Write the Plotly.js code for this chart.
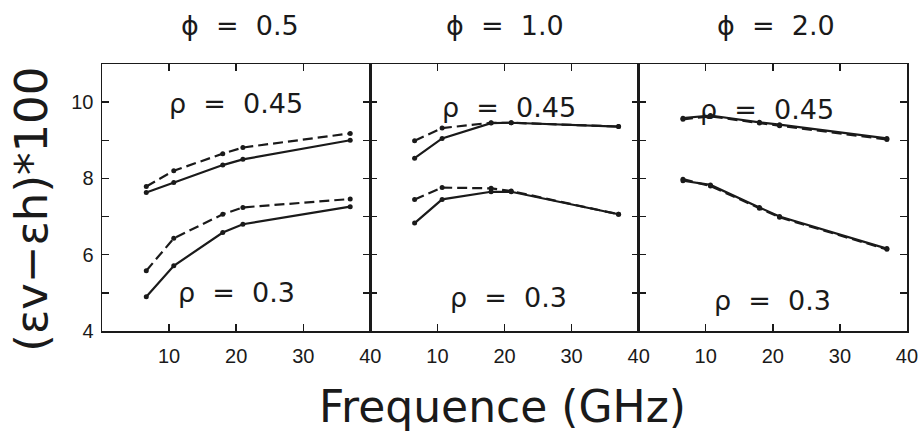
<!DOCTYPE html>
<html>
<head>
<meta charset="utf-8">
<script src="https://cdn.plot.ly/plotly-3.0.1.min.js"></script>
<style>html,body{margin:0;padding:0;background:#fff;}#chart{width:920px;height:441px;}</style>
</head>
<body>
<div id="chart"></div>
<script>
// Frequencies (GHz)
const freq = [6.6, 10.7, 18, 21, 37];

// Panel titles and curve labels
const phiTitles = ["ϕ\u00A0\u00A0=\u00A0\u00A00.5", "ϕ\u00A0\u00A0=\u00A0\u00A01.0", "ϕ\u00A0\u00A0=\u00A0\u00A02.0"];
const rhoHigh = "ρ\u00A0\u00A0=\u00A0\u00A00.45";
const rhoLow = "ρ\u00A0\u00A0=\u00A0\u00A00.3";

// phi = 0.5
const p1_r045_solid = [7.63, 7.89, 8.35, 8.50, 9.00];
const p1_r045_dash  = [7.79, 8.20, 8.65, 8.81, 9.18];
const p1_r03_solid  = [4.90, 5.71, 6.58, 6.80, 7.26];
const p1_r03_dash   = [5.58, 6.43, 7.06, 7.24, 7.46];

// phi = 1.0
const p2_r045_solid = [8.53, 9.05, 9.45, 9.46, 9.36];
const p2_r045_dash  = [8.99, 9.32, 9.46, 9.46, 9.36];
const p2_r03_solid  = [6.83, 7.45, 7.65, 7.65, 7.06];
const p2_r03_dash   = [7.45, 7.76, 7.74, 7.67, 7.06];

// phi = 2.0
const p3_r045_solid = [9.58, 9.65, 9.47, 9.41, 9.05];
const p3_r045_dash  = [9.55, 9.63, 9.45, 9.38, 9.02];
const p3_r03_solid  = [7.94, 7.83, 7.24, 7.00, 6.16];
const p3_r03_dash   = [7.98, 7.80, 7.22, 6.98, 6.14];

// Tick labels
const xTickVals = [10, 20, 30, 40];
const xTickText = ["10", "20", "30", "40"];
const yTickVals = [4, 5, 6, 7, 8, 9, 10, 11];
const yTickText = ["4", "", "6", "", "8", "", "10", ""];

const panels = [
  {xa: "x",  ya: "y",  s45: p1_r045_solid, d45: p1_r045_dash, s3: p1_r03_solid, d3: p1_r03_dash},
  {xa: "x2", ya: "y2", s45: p2_r045_solid, d45: p2_r045_dash, s3: p2_r03_solid, d3: p2_r03_dash},
  {xa: "x3", ya: "y3", s45: p3_r045_solid, d45: p3_r045_dash, s3: p3_r03_solid, d3: p3_r03_dash}
];

const FONT = "DejaVu Sans, Liberation Sans, sans-serif";
const TICKFONT = "Liberation Sans, Arial, sans-serif";
const ink = "#1a1a1a";

const traces = [];
panels.forEach(p => {
  const solid = {color: ink, width: 2.2};
  const dash = {color: ink, width: 2.2, dash: "10px,5px"};
  const mk = {color: ink, size: 5};
  [[p.d45, dash], [p.s45, solid], [p.d3, dash], [p.s3, solid]].forEach(([ys, ln]) => {
    traces.push({x: freq, y: ys, xaxis: p.xa, yaxis: p.ya, type: "scatter",
      mode: "lines+markers", line: ln, marker: mk, showlegend: false, hoverinfo: "skip"});
  });
});

function xAxis(domain, anchor) {
  return {domain: domain, anchor: anchor, range: [0, 40], tickmode: "array",
    tickvals: xTickVals, ticktext: xTickText, ticks: "inside", ticklen: 7, tickwidth: 1.5,
    tickcolor: ink, showline: true, linecolor: ink, linewidth: 1.5, mirror: "ticks",
    showgrid: false, zeroline: false, ticklabelstandoff: 6,
    tickfont: {family: TICKFONT, size: 20, color: ink}};
}
function yAxis(anchor, labels) {
  return {anchor: anchor, domain: [0, 1], range: [4, 11], tickmode: "array",
    tickvals: yTickVals, ticktext: yTickText, ticks: "inside", ticklen: 7, tickwidth: 1.5,
    tickcolor: ink, showline: true, linecolor: ink, linewidth: 1.5, mirror: "ticks",
    showgrid: false, zeroline: false, showticklabels: labels, ticklabelstandoff: 3,
    tickfont: {family: TICKFONT, size: 20, color: ink}};
}

const annotations = [];
const phiX = [20.6, 20.1, 20.4];
const rhoHighPos = [[20, 9.97], [20.6, 9.85], [19.1, 9.8]];
const rhoLowPos = [[20, 5.0], [20.6, 4.87], [20, 4.8]];
panels.forEach((p, i) => {
  annotations.push({text: phiTitles[i], xref: p.xa, yref: "paper", x: phiX[i], y: 1.146,
    showarrow: false, xanchor: "center", yanchor: "middle", font: {family: FONT, size: 27, color: ink}});
  annotations.push({text: rhoHigh, xref: p.xa, yref: p.ya, x: rhoHighPos[i][0], y: rhoHighPos[i][1],
    showarrow: false, xanchor: "center", yanchor: "middle", font: {family: FONT, size: 27, color: ink}});
  annotations.push({text: rhoLow, xref: p.xa, yref: p.ya, x: rhoLowPos[i][0], y: rhoLowPos[i][1],
    showarrow: false, xanchor: "center", yanchor: "middle", font: {family: FONT, size: 27, color: ink}});
});
annotations.push({text: "Frequence (GHz)", xref: "paper", yref: "paper", x: 0.497, y: -0.281,
  showarrow: false, xanchor: "center", yanchor: "middle", font: {family: FONT, size: 44, color: ink}});
annotations.push({text: "(εv−εh)*100", xref: "paper", yref: "paper", x: -0.088, y: 0.455,
  textangle: -90, showarrow: false, xanchor: "center", yanchor: "middle",
  font: {family: FONT, size: 45, color: ink}});

const layout = {
  width: 920, height: 441,
  margin: {l: 102, r: 13, t: 64, b: 110},
  paper_bgcolor: "#ffffff", plot_bgcolor: "#ffffff",
  showlegend: false,
  xaxis: xAxis([0, 1/3], "y"),
  xaxis2: xAxis([1/3, 2/3], "y2"),
  xaxis3: xAxis([2/3, 1], "y3"),
  yaxis: yAxis("x", true),
  yaxis2: yAxis("x2", false),
  yaxis3: yAxis("x3", false),
  annotations: annotations
};

Plotly.newPlot("chart", traces, layout, {staticPlot: true, displayModeBar: false});
</script>
</body>
</html>
